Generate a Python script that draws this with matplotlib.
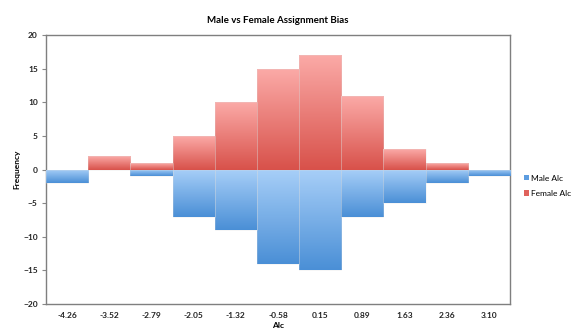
import numpy as np
import matplotlib
matplotlib.use("Agg")
from matplotlib import pyplot as plt
from matplotlib.colors import LinearSegmentedColormap
from matplotlib.patches import Patch
import matplotlib.ticker as ticker

plt.rcParams['font.family'] = ['Lato', 'DejaVu Sans']

categories = ["-4.26", "-3.52", "-2.79", "-2.05", "-1.32", "-0.58",
              "0.15", "0.89", "1.63", "2.36", "3.10"]
male_alc = [-2, 0, -1, -7, -9, -14, -15, -7, -5, -2, -1]
female_alc = [0, 2, 1, 5, 10, 15, 17, 11, 3, 1, 0]

fig = plt.figure(figsize=(5.71, 3.34), dpi=100)
ax = fig.add_axes([0.0806, 0.0898, 0.8125, 0.805])

x = np.arange(len(categories))
red_cmap = LinearSegmentedColormap.from_list("r", ["#d8514a", "#fbaaa7"])
blue_cmap = LinearSegmentedColormap.from_list("b", ["#4a8fd6", "#a8cff8"])
grad = np.linspace(0, 1, 256).reshape(-1, 1)


def gradient_bars(vals, cmap, z):
    bars = ax.bar(x, vals, width=1.0, color="none", edgecolor="none", zorder=z)
    for r in bars:
        h = r.get_height()
        if h == 0:
            continue
        x0 = r.get_x()
        lo, hi = min(0, h), max(0, h)
        im = ax.imshow(grad, extent=[x0, x0 + r.get_width(), lo, hi], origin="lower",
                       aspect="auto", cmap=cmap, zorder=z, interpolation="bilinear")
        im.set_clip_path(r)
        ax.add_patch(plt.Rectangle((x0, lo), r.get_width(), hi - lo, fill=False,
                                   edgecolor="#dddddd", lw=0.5, alpha=0.35, zorder=z + 0.1))


gradient_bars(female_alc, red_cmap, 2)
gradient_bars(male_alc, blue_cmap, 3)

ax.set_xlim(-0.5, len(categories) - 0.5)
ax.set_ylim(-20, 20)
ax.yaxis.set_major_locator(ticker.MultipleLocator(5))
ax.set_xticks(x)
ax.set_xticklabels(categories)
ax.tick_params(axis="x", length=0, pad=6, labelsize=6)
ax.tick_params(axis="y", length=3, width=0.8, color="#888888", pad=3, labelsize=6)
for lab in ax.get_xticklabels() + ax.get_yticklabels():
    lab.set_fontweight("bold")
    lab.set_color("#222222")
for s in ax.spines.values():
    s.set_color("#7f7f7f")
    s.set_linewidth(1.0)

ax.set_title("Male vs Female Assignment Bias", fontsize=7, fontweight="bold", pad=9)
ax.set_xlabel("Alc", fontsize=6, fontweight="bold", labelpad=2)
ax.set_ylabel("Frequency", fontsize=6, fontweight="bold", labelpad=2)

handles = [Patch(facecolor="#5d9de0", edgecolor="none", label="Male Alc"),
           Patch(facecolor="#e0625c", edgecolor="none", label="Female Alc")]
ax.legend(handles=handles, loc="center left", bbox_to_anchor=(1.03, 0.44), frameon=False,
          borderaxespad=0, borderpad=0, fontsize=6, handlelength=0.6, handleheight=0.6,
          handletextpad=0.3, labelspacing=1.0)

plt.savefig("out.png", dpi=100)
